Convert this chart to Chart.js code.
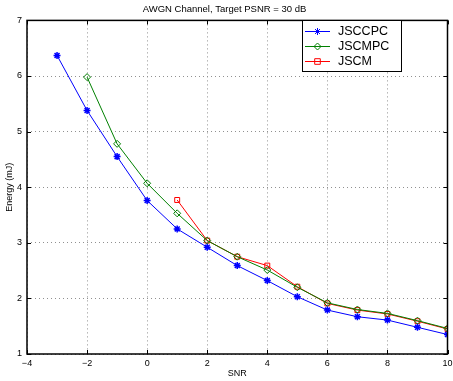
<!DOCTYPE html>
<html>
<head>
<meta charset="utf-8">
<script src="https://cdn.jsdelivr.net/npm/chart.js@4/dist/chart.umd.min.js"></script>
<style>html,body{margin:0;padding:0;background:#fff;}canvas{display:block;}</style>
</head>
<body>
<canvas id="c" width="453" height="381"></canvas>
<script>
const chartTitle = "AWGN Channel, Target PSNR = 30 dB";
const xTitle = "SNR";
const yTitle = "Energy (mJ)";
const seriesNames = ["JSCCPC", "JSCMPC", "JSCM"];

const snrJSCCPC = [-3, -2, -1, 0, 1, 2, 3, 4, 5, 6, 7, 8, 9, 10];
const energyJSCCPC = [6.37, 5.38, 4.55, 3.76, 3.25, 2.92, 2.59, 2.32, 2.03, 1.79, 1.67, 1.61, 1.48, 1.35];

const snrJSCMPC = [-2, -1, 0, 1, 2, 3, 4, 5, 6, 7, 8, 9, 10];
const energyJSCMPC = [5.98, 4.78, 4.07, 3.53, 3.04, 2.75, 2.51, 2.20, 1.92, 1.80, 1.73, 1.60, 1.46];

const snrJSCM = [1, 2, 3, 4, 5, 6, 7, 8, 9, 10];
const energyJSCM = [3.77, 3.04, 2.75, 2.59, 2.21, 1.91, 1.79, 1.72, 1.59, 1.45];

const xTicks = [-4, -2, 0, 2, 4, 6, 8, 10];
const yTicks = [1, 2, 3, 4, 5, 6, 7];

const toPts = (xs, ys) => xs.map((x, i) => ({x: x, y: ys[i]}));
const FONT = "'Liberation Sans', Arial, Helvetica, sans-serif";

function drawMarker(ctx, style, x, y, r, color) {
  ctx.save();
  ctx.strokeStyle = color;
  ctx.fillStyle = color;
  ctx.lineWidth = 1;
  ctx.beginPath();
  if (style === 'star') {
    for (let k = 0; k < 4; k++) {
      const a = k * Math.PI / 4;
      ctx.moveTo(x - r * Math.cos(a), y - r * Math.sin(a));
      ctx.lineTo(x + r * Math.cos(a), y + r * Math.sin(a));
    }
    ctx.stroke();
  } else if (style === 'rectRot') {
    ctx.moveTo(x, y - r); ctx.lineTo(x + r, y); ctx.lineTo(x, y + r); ctx.lineTo(x - r, y); ctx.closePath();
    ctx.stroke();
  } else {
    ctx.rect(x - r * 0.8, y - r * 0.8, r * 1.6, r * 1.6);
    ctx.stroke();
  }
  ctx.restore();
}

const framePlugin = {
  id: 'frame',
  afterDraw(chart) {
    const ctx = chart.ctx;
    const a = chart.chartArea;
    const xs = chart.scales.x, ys = chart.scales.y;
    ctx.save();
    ctx.strokeStyle = '#000';
    ctx.lineWidth = 1;
    ctx.beginPath();
    xTicks.forEach(v => {
      const px = Math.round(xs.getPixelForValue(v)) + 0.5;
      ctx.moveTo(px, a.bottom); ctx.lineTo(px, a.bottom - 4);
      ctx.moveTo(px, a.top); ctx.lineTo(px, a.top + 4);
    });
    yTicks.forEach(v => {
      const py = Math.round(ys.getPixelForValue(v)) + 0.5;
      ctx.moveTo(a.left, py); ctx.lineTo(a.left + 4, py);
      ctx.moveTo(a.right, py); ctx.lineTo(a.right - 4, py);
    });
    ctx.stroke();
    ctx.lineWidth = 1.5;
    ctx.strokeRect(a.left, a.top, a.right - a.left, a.bottom - a.top);
    const bx = 302, by = 20, bw = 99, bh = 51;
    ctx.fillStyle = '#fff';
    ctx.fillRect(bx, by, bw, bh);
    ctx.lineWidth = 1;
    ctx.strokeStyle = '#000';
    ctx.strokeRect(bx + 0.5, by + 0.5, bw, bh);
    ctx.font = "12.5px " + FONT;
    ctx.textBaseline = 'middle';
    ctx.textAlign = 'left';
    const rows = [31, 46, 61];
    chart.data.datasets.forEach((ds, i) => {
      const yy = rows[i] + 0.5;
      ctx.strokeStyle = ds.borderColor;
      ctx.lineWidth = 1;
      ctx.beginPath();
      ctx.moveTo(305, yy); ctx.lineTo(330, yy);
      ctx.stroke();
      drawMarker(ctx, ds.pointStyle, 317.5, yy, 3.5, ds.borderColor);
      ctx.fillStyle = '#000';
      ctx.fillText(ds.label, 338, yy + 0.5);
    });
    ctx.restore();
  }
};

const gridOpts = {color: '#909090', lineWidth: 1, drawTicks: false};
const borderOpts = {display: false, dash: [1, 3]};

new Chart(document.getElementById('c'), {
  type: 'line',
  data: {
    datasets: [
      {label: seriesNames[0], data: toPts(snrJSCCPC, energyJSCCPC), borderColor: '#0000ff', backgroundColor: '#0000ff',
       pointStyle: 'star', pointRadius: 3.5, pointBorderWidth: 1.5, borderWidth: 1},
      {label: seriesNames[1], data: toPts(snrJSCMPC, energyJSCMPC), borderColor: '#008000', backgroundColor: 'rgba(0,0,0,0)',
       pointStyle: 'rectRot', pointRadius: 3.5, pointBorderWidth: 1, borderWidth: 1},
      {label: seriesNames[2], data: toPts(snrJSCM, energyJSCM), borderColor: '#ff0000', backgroundColor: 'rgba(0,0,0,0)',
       pointStyle: 'rect', pointRadius: 3.5, pointBorderWidth: 1, borderWidth: 1}
    ]
  },
  options: {
    responsive: false,
    animation: false,
    layout: {padding: {left: 0, right: 4, top: 0, bottom: 0}},
    plugins: {
      legend: {display: false},
      tooltip: {enabled: false},
      title: {display: true, text: chartTitle, color: '#000', font: {family: FONT, size: 9.5, weight: 'normal', lineHeight: 1.2},
              padding: {top: 4, bottom: 5}}
    },
    scales: {
      x: {
        type: 'linear', min: -4, max: 10,
        afterBuildTicks: s => { s.ticks = xTicks.map(v => ({value: v})); },
        afterFit: s => { s.height = 27; s.paddingLeft = 0; s.paddingRight = 0; },
        grid: gridOpts,
        border: borderOpts,
        ticks: {color: '#000', font: {family: FONT, size: 9}, padding: 4, maxRotation: 0, autoSkip: false,
                callback: v => String(v).replace('-', '\u2212')},
        title: {display: true, text: xTitle, color: '#000', font: {family: FONT, size: 9}, padding: {top: 0, bottom: 2}}
      },
      y: {
        type: 'linear', min: 1, max: 7,
        afterBuildTicks: s => { s.ticks = yTicks.map(v => ({value: v})); },
        afterFit: s => { s.width = 27; s.paddingTop = 0; s.paddingBottom = 0; },
        grid: gridOpts,
        border: borderOpts,
        ticks: {color: '#000', font: {family: FONT, size: 9}, padding: 5, autoSkip: false},
        title: {display: true, text: yTitle, color: '#000', font: {family: FONT, size: 9}, padding: {top: 4, bottom: 0}}
      }
    }
  },
  plugins: [framePlugin]
});
</script>
</body>
</html>
